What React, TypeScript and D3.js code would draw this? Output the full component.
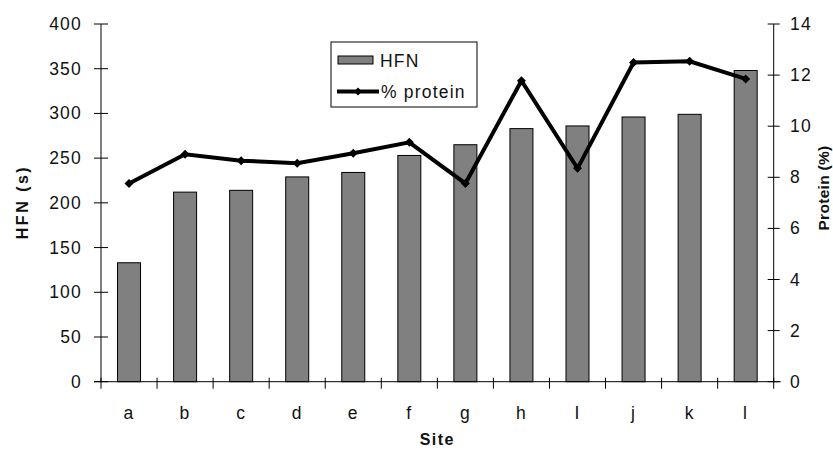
import React from "react";
import * as d3 from "d3";

const sites = ["a", "b", "c", "d", "e", "f", "g", "h", "I", "j", "k", "l"];
const hfn = [133, 212, 214, 229, 234, 253, 265, 283, 286, 296, 299, 348];
const protein = [7.76, 8.9, 8.65, 8.55, 8.94, 9.37, 7.76, 11.78, 8.35, 12.49, 12.54, 11.85];
const leftTicks = [0, 50, 100, 150, 200, 250, 300, 350, 400];
const rightTicks = [0, 2, 4, 6, 8, 10, 12, 14];

const W = 833, H = 450;
const x0 = 101, x1 = 773.7, yTop = 24, yBot = 381.7;
const FONT = "'Liberation Sans', Arial, sans-serif";

export default function App() {
  const x = d3.scaleBand<string>().domain(sites).range([x0, x1]).paddingInner(0).paddingOuter(0);
  const yL = d3.scaleLinear().domain([0, 400]).range([yBot, yTop]);
  const yR = d3.scaleLinear().domain([0, 14]).range([yBot, yTop]);
  const bw = 23;
  const cx = (s: string) => (x(s) as number) + x.bandwidth() / 2;
  const line = d3.line<number>().x((_, i) => cx(sites[i])).y((d) => yR(d));
  const diamond = (px: number, py: number, r = 3.5) =>
    `M${px},${py - r}L${px + r},${py}L${px},${py + r}L${px - r},${py}Z`;
  const tickStyle = { fontFamily: FONT, fontSize: 17.5, fill: "#111", letterSpacing: 1.2 } as const;
  const titleStyle = { fontFamily: FONT, fontSize: 16, fontWeight: "bold", fill: "#111" } as const;

  return (
    <svg width={W} height={H} style={{ position: "absolute", left: 0, top: 0, background: "#fff" }}>
      <rect x={0} y={0} width={W} height={H} fill="#fff" />
      {/* bars */}
      {sites.map((s, i) => (
        <rect key={s} x={cx(s) - bw / 2} y={yL(hfn[i])} width={bw} height={yBot - yL(hfn[i])}
          fill="#808080" stroke="#000" strokeWidth={1} />
      ))}
      {/* left axis */}
      <line x1={x0} x2={x0} y1={yTop} y2={yBot} stroke="#000" strokeWidth={1} />
      {leftTicks.map((t) => (
        <g key={"l" + t}>
          <line x1={x0 - 7} x2={x0 + 7} y1={yL(t)} y2={yL(t)} stroke="#000" />
          <text x={82} y={yL(t) + 6} textAnchor="end" style={tickStyle}>{t}</text>
        </g>
      ))}
      {/* right axis */}
      <line x1={x1} x2={x1} y1={yTop} y2={yBot} stroke="#000" strokeWidth={1} />
      {rightTicks.map((t) => (
        <g key={"r" + t}>
          <line x1={x1 - 6} x2={x1 + 6} y1={yR(t)} y2={yR(t)} stroke="#000" />
          <text x={790} y={yR(t) + 6} textAnchor="start" style={tickStyle}>{t}</text>
        </g>
      ))}
      {/* x axis */}
      <line x1={x0 - 7} x2={x1 + 7} y1={yBot} y2={yBot} stroke="#000" strokeWidth={1} />
      {d3.range(sites.length + 1).map((i) => {
        const px = x0 + i * x.bandwidth();
        return <line key={"xt" + i} x1={px} x2={px} y1={yBot - 4} y2={yBot + 7} stroke="#000" />;
      })}
      {sites.map((s) => (
        <text key={"xl" + s} x={cx(s)} y={419} textAnchor="middle" style={tickStyle}>{s}</text>
      ))}
      {/* line */}
      <path d={line(protein) || ""} fill="none" stroke="#000" strokeWidth={4} strokeLinejoin="miter" />
      {protein.map((p, i) => (
        <path key={"m" + i} d={diamond(cx(sites[i]), yR(p), 4.5)} fill="#000" />
      ))}
      {/* axis titles */}
      <text x={(x0 + x1) / 2} y={445} textAnchor="middle" style={{ ...titleStyle, letterSpacing: 1.5 }}>Site</text>
      <text transform={`translate(28,202) rotate(-90)`} textAnchor="middle"
        style={{ ...titleStyle, letterSpacing: 2.5 }}>HFN (s)</text>
      <text transform={`translate(829,188) rotate(-90)`} textAnchor="middle"
        style={{ ...titleStyle, fontSize: 15.5, letterSpacing: 0.3 }}>Protein (%)</text>
      {/* legend */}
      <rect x={331} y={42} width={146} height={65} fill="#fff" stroke="#000" strokeWidth={1} />
      <rect x={338} y={56} width={35} height={8} fill="#808080" stroke="#000" strokeWidth={1} />
      <text x={380} y={67} style={tickStyle}>HFN</text>
      <line x1={337} x2={379} y1={91.5} y2={91.5} stroke="#000" strokeWidth={4} />
      <path d={diamond(358, 91.5, 4)} fill="#000" />
      <text x={381} y={98} style={tickStyle}>% protein</text>
    </svg>
  );
}
